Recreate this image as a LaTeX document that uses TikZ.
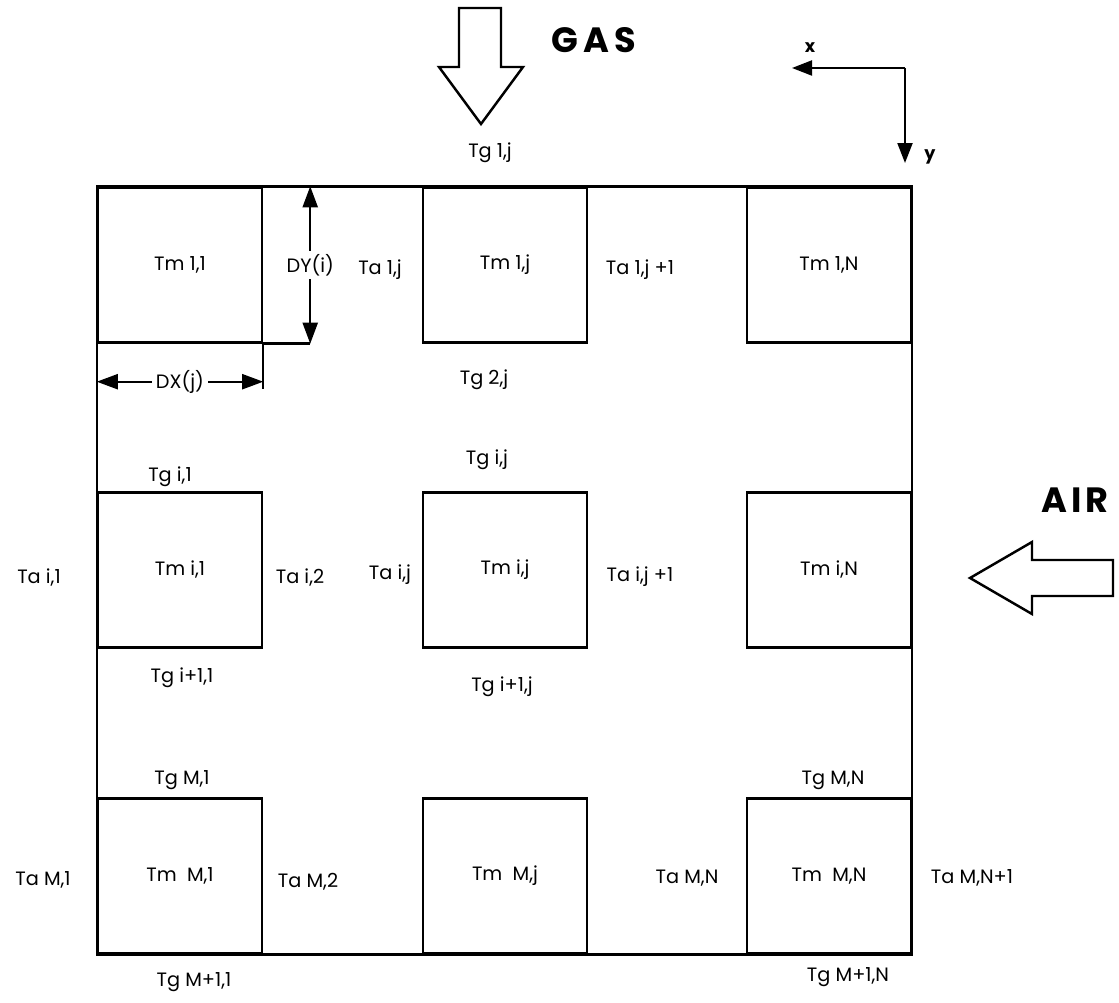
\documentclass[tikz,border=0pt]{standalone}
\usepackage{fontspec}
\setmainfont{Poppins}
\usetikzlibrary{arrows.meta, positioning}

\begin{document}
\begin{tikzpicture}[x=0.02cm, y=-0.02cm,
    cell/.style={rectangle, draw=black, line width=1.4pt, minimum width=3.28cm, minimum height=3.1cm, inner sep=0pt, font=\fontsize{11}{13}\selectfont},
    temp/.style={font=\fontsize{11}{13}\selectfont, inner sep=1pt},
    flow/.style={draw=black, line width=1.4pt, fill=white},
    bigtag/.style={font=\fontsize{20}{24}\selectfont\bfseries},
    dim/.style={line width=1.2pt, {Triangle[length=0.42cm,width=0.3cm]}-{Triangle[length=0.42cm,width=0.3cm]}},
    axis/.style={line width=1.2pt, -{Triangle[length=0.4cm,width=0.3cm]}}
]
\useasboundingbox (0,0) rectangle (1119,1003);

% Flow arrows: gas from the top, air from the right
\draw[flow] (459,8) -- (501,8) -- (501,67) -- (523,67) -- (481,124) -- (439,67) -- (459,67) -- cycle;
\node[bigtag] (gasTag) at (594,40) {G\hspace{0.15em}A\hspace{0.15em}S};
\draw[flow] (970,578) -- (1032,542) -- (1032,560) -- (1113,560) -- (1113,596) -- (1032,596) -- (1032,614) -- cycle;
\node[bigtag] (airTag) at (1075,500) {A\hspace{0.12em}I\hspace{0.12em}R};

% Axes
\coordinate (axOrigin) at (905,68);
\coordinate (xTip) at (792,68);
\coordinate (yTip) at (905,163);
\draw[axis] (axOrigin) -- (xTip);
\draw[axis] (axOrigin) -- (yTip);
\node[font=\fontsize{10}{12}\selectfont\bfseries] (xLabel) at (810,48) {x};
\node[font=\fontsize{10}{12}\selectfont\bfseries] (yLabel) at (930,157) {y};

% Metal cells: rows 1, i, M and columns 1, j, N
\node[cell] (m11) at (180,265) {Tm 1,1};
\node[cell] (m1j) at (505,265) {Tm 1,j};
\node[cell] (m1N) at (829,265) {Tm 1,N};
\node[cell] (mi1) at (180,570) {Tm i,1};
\node[cell] (mij) at (505,570) {Tm i,j};
\node[cell] (miN) at (829,570) {Tm i,N};
\node[cell] (mM1) at (180,876) {Tm\ \ M,1};
\node[cell] (mMj) at (505,876) {Tm\ \ M,j};
\node[cell] (mMN) at (829,876) {Tm\ \ M,N};

% Outer wall
\draw[line width=1.4pt] (m11.north west) rectangle (mMN.south east);

% Cell size dimensions
\draw[line width=1.4pt] (m11.south east) -- ++(47,0) coordinate (dyFoot);
\draw[dim] (dyFoot |- m11.north) -- node[fill=white, temp, inner sep=2pt] {DY(i)} (dyFoot);
\draw[line width=1.4pt] (m11.south east) -- ++(0,45);
\coordinate (dxRight) at ([yshift=-0.76cm]m11.south east);
\draw[dim] (dxRight -| m11.west) -- node[fill=white, temp, inner sep=2pt] {DX(j)} (dxRight);

% Gas temperatures
\node[temp] (g1j) at (490,153) {Tg 1,j};
\node[temp] (g2j) at (484,380) {Tg 2,j};
\node[temp] (gij) at (487,460) {Tg i,j};
\node[temp] (gi1) at (170,477) {Tg i,1};
\node[temp] (gip1) at (182,678) {Tg i+1,1};
\node[temp] (gipj) at (502,687) {Tg i+1,j};
\node[temp] (gM1) at (182,780) {Tg M,1};
\node[temp] (gMN) at (833,780) {Tg M,N};
\node[temp] (gMp1) at (194,982) {Tg M+1,1};
\node[temp] (gMpN) at (848,977) {Tg M+1,N};

% Air temperatures
\node[temp] (a1j) at (380,270) {Ta 1,j};
\node[temp] (a1jp) at (640,270) {Ta 1,j +1};
\node[temp] (ai1) at (39,578) {Ta i,1};
\node[temp] (ai2) at (300,578) {Ta i,2};
\node[temp] (aij) at (390,575) {Ta i,j};
\node[temp] (aijp) at (640,577) {Ta i,j +1};
\node[temp] (aM1) at (43,880) {Ta M,1};
\node[temp] (aM2) at (308,882) {Ta M,2};
\node[temp] (aMN) at (687,878) {Ta M,N};
\node[temp] (aMNp) at (972,878) {Ta M,N+1};
\end{tikzpicture}
\end{document}
